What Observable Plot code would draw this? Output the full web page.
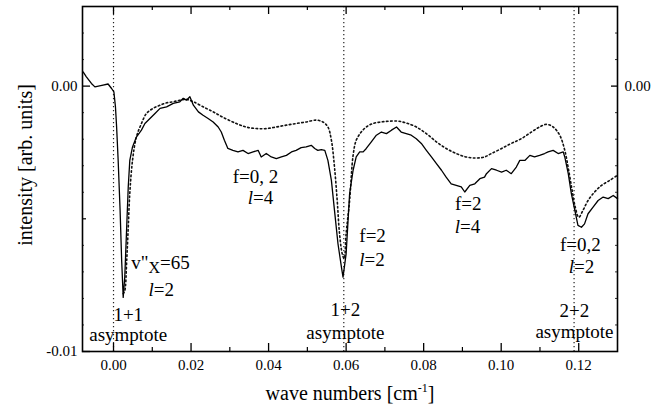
<!DOCTYPE html>
<html><head><meta charset="utf-8">
<script src="https://cdn.jsdelivr.net/npm/d3@7"></script>
<script src="https://cdn.jsdelivr.net/npm/@observablehq/plot@0.6"></script>
<style>
body{margin:0;background:#fff}
</style>
</head><body><div id="chart"></div><script>
// measured spectrum [wave number, intensity]
const measured = [[-0.0078,0.00053],[-0.0070,0.00035],[-0.0057,0.00010],[-0.0048,-0.00003],[-0.0039,0.00000],[-0.0027,0.00004],[-0.0014,0.00008],[-0.0005,-0.00009],[0.0001,-0.00022],[0.0005,-0.00078],[0.0008,-0.00154],[0.0012,-0.00280],[0.0017,-0.00469],[0.0021,-0.00657],[0.0025,-0.00796],[0.0029,-0.00720],[0.0034,-0.00532],[0.0038,-0.00380],[0.0042,-0.00280],[0.0049,-0.00229],[0.0059,-0.00192],[0.0072,-0.00166],[0.0081,-0.00141],[0.0094,-0.00122],[0.0107,-0.00103],[0.0120,-0.00084],[0.0137,-0.00078],[0.0154,-0.00065],[0.0171,-0.00059],[0.0180,-0.00046],[0.0188,-0.00053],[0.0197,-0.00040],[0.0206,-0.00072],[0.0219,-0.00097],[0.0231,-0.00110],[0.0244,-0.00122],[0.0257,-0.00135],[0.0270,-0.00154],[0.0278,-0.00173],[0.0286,-0.00204],[0.0295,-0.00235],[0.0308,-0.00242],[0.0321,-0.00248],[0.0334,-0.00242],[0.0347,-0.00254],[0.0360,-0.00248],[0.0373,-0.00242],[0.0381,-0.00267],[0.0394,-0.00254],[0.0407,-0.00267],[0.0420,-0.00273],[0.0433,-0.00267],[0.0446,-0.00261],[0.0459,-0.00248],[0.0471,-0.00242],[0.0484,-0.00232],[0.0497,-0.00229],[0.0510,-0.00223],[0.0519,-0.00235],[0.0527,-0.00242],[0.0536,-0.00239],[0.0545,-0.00242],[0.0553,-0.00280],[0.0562,-0.00355],[0.0570,-0.00468],[0.0579,-0.00594],[0.0588,-0.00683],[0.0592,-0.00720],[0.0600,-0.00632],[0.0609,-0.00405],[0.0618,-0.00317],[0.0626,-0.00267],[0.0635,-0.00248],[0.0644,-0.00248],[0.0652,-0.00235],[0.0665,-0.00210],[0.0678,-0.00185],[0.0691,-0.00173],[0.0704,-0.00179],[0.0717,-0.00166],[0.0730,-0.00154],[0.0742,-0.00173],[0.0755,-0.00179],[0.0768,-0.00185],[0.0781,-0.00198],[0.0794,-0.00216],[0.0807,-0.00242],[0.0820,-0.00267],[0.0833,-0.00292],[0.0846,-0.00317],[0.0858,-0.00343],[0.0871,-0.00368],[0.0884,-0.00374],[0.0897,-0.00380],[0.0906,-0.00399],[0.0919,-0.00374],[0.0932,-0.00368],[0.0945,-0.00349],[0.0957,-0.00343],[0.0962,-0.00330],[0.0975,-0.00311],[0.0988,-0.00317],[0.1001,-0.00324],[0.1013,-0.00317],[0.1026,-0.00330],[0.1039,-0.00305],[0.1048,-0.00280],[0.1061,-0.00280],[0.1074,-0.00261],[0.1086,-0.00267],[0.1099,-0.00261],[0.1112,-0.00254],[0.1121,-0.00248],[0.1134,-0.00242],[0.1147,-0.00254],[0.1160,-0.00248],[0.1164,-0.00267],[0.1173,-0.00330],[0.1181,-0.00405],[0.1190,-0.00468],[0.1198,-0.00525],[0.1207,-0.00532],[0.1215,-0.00519],[0.1224,-0.00481],[0.1237,-0.00456],[0.1250,-0.00431],[0.1263,-0.00418],[0.1276,-0.00424],[0.1289,-0.00412],[0.1300,-0.00424]];

// simulated spectrum [wave number, intensity]
const simulated = [[0.0025,-0.00782],[0.0029,-0.00771],[0.0034,-0.00657],[0.0038,-0.00532],[0.0042,-0.00404],[0.0049,-0.00280],[0.0059,-0.00192],[0.0072,-0.00141],[0.0085,-0.00103],[0.0102,-0.00084],[0.0120,-0.00072],[0.0137,-0.00063],[0.0154,-0.00059],[0.0171,-0.00053],[0.0188,-0.00050],[0.0206,-0.00059],[0.0231,-0.00078],[0.0257,-0.00097],[0.0283,-0.00118],[0.0317,-0.00141],[0.0342,-0.00154],[0.0368,-0.00160],[0.0394,-0.00160],[0.0420,-0.00154],[0.0446,-0.00147],[0.0471,-0.00141],[0.0497,-0.00135],[0.0523,-0.00128],[0.0540,-0.00135],[0.0553,-0.00154],[0.0562,-0.00204],[0.0570,-0.00305],[0.0577,-0.00431],[0.0583,-0.00556],[0.0590,-0.00632],[0.0595,-0.00650],[0.0600,-0.00556],[0.0609,-0.00431],[0.0618,-0.00261],[0.0626,-0.00204],[0.0639,-0.00173],[0.0652,-0.00154],[0.0669,-0.00141],[0.0691,-0.00135],[0.0712,-0.00132],[0.0734,-0.00132],[0.0755,-0.00139],[0.0781,-0.00154],[0.0807,-0.00179],[0.0833,-0.00210],[0.0858,-0.00235],[0.0884,-0.00254],[0.0910,-0.00267],[0.0936,-0.00271],[0.0957,-0.00267],[0.0975,-0.00254],[0.1001,-0.00235],[0.1026,-0.00216],[0.1052,-0.00198],[0.1078,-0.00173],[0.1099,-0.00154],[0.1117,-0.00144],[0.1134,-0.00154],[0.1151,-0.00185],[0.1164,-0.00242],[0.1174,-0.00317],[0.1183,-0.00393],[0.1191,-0.00456],[0.1200,-0.00494],[0.1211,-0.00468],[0.1224,-0.00431],[0.1241,-0.00399],[0.1259,-0.00374],[0.1280,-0.00355],[0.1300,-0.00336]];

const asymptotes = [0, 0.0594, 0.1188];
const xMajorTicks = [0, 0.02, 0.04, 0.06, 0.08, 0.10, 0.12];
const xMinorTicks = [0.01, 0.03, 0.05, 0.07, 0.09, 0.11];
const yLeftLabels = [0, -0.01];
const yRightLabels = [0];
const yMidTicks = [-0.005];
const yFineTicks = [-0.009,-0.008,-0.007,-0.006,-0.004,-0.003,-0.002,-0.001,0.001,0.002];

const midText = ["l=2","1+1","asymptote","f=0, 2","l=4","1+2","asymptote","f=2","l=4","f=0,2","l=2","2+2","asymptote"];
const midX    = [0.0123,0.0038,0.0038,0.0366,0.0379,0.0598,0.0598,0.0915,0.0913,0.1204,0.1207,0.1189,0.1189];
const midY    = [-0.00790,-0.00884,-0.00960,-0.00366,-0.00446,-0.00865,-0.00952,-0.00468,-0.00555,-0.00620,-0.00703,-0.00869,-0.00948];
const startText = ['v"X=65',"f=2","l=2"];
const startX    = [0.00457,0.0634,0.0634];
const startY    = [-0.00691,-0.00589,-0.00676];

const FONT = '"Liberation Serif", "Times New Roman", serif';
const fmt = d => d.toFixed(2);
const W = 670, H = 409, mL = 82, mR = 53, mT = 6, mB = 58;
const fw = W - mL - mR, fh = H - mT - mB;

const plot = Plot.plot({
  width: W, height: H,
  marginLeft: mL, marginRight: mR, marginTop: mT, marginBottom: mB,
  x: {domain: [-0.008, 0.13]},
  y: {domain: [-0.01, 0.003]},
  style: "font-family: 'Liberation Serif', 'Times New Roman', serif; font-size: 15px; background: white; color: black;",
  marks: [
    Plot.ruleX(asymptotes, {x: d => d, stroke: "#222", strokeWidth: 1.2, strokeDasharray: "1.2,2.8"}),
    Plot.line(simulated, {x: d => d[0], y: d => d[1], stroke: "#111", strokeWidth: 1.6, strokeDasharray: "1.6,2.6", curve: "catmull-rom"}),
    Plot.line(measured, {x: d => d[0], y: d => d[1], stroke: "#000", strokeWidth: 1.3}),
    // inward ticks
    Plot.tickX(xMajorTicks, {x: d => d, insetTop: fh - 8, strokeWidth: 1.3}),
    Plot.tickX(xMajorTicks, {x: d => d, insetBottom: fh - 8, strokeWidth: 1.3}),
    Plot.tickX(xMinorTicks, {x: d => d, insetTop: fh - 4, strokeWidth: 1.2}),
    Plot.tickX(xMinorTicks, {x: d => d, insetBottom: fh - 4, strokeWidth: 1.2}),
    Plot.tickY(yLeftLabels, {y: d => d, insetRight: fw - 8, strokeWidth: 1.3}),
    Plot.tickY(yRightLabels, {y: d => d, insetLeft: fw - 6, strokeWidth: 1.3}),
    Plot.tickY(yMidTicks, {y: d => d, insetRight: fw - 4, strokeWidth: 1.2}),
    Plot.tickY(yMidTicks, {y: d => d, insetLeft: fw - 4, strokeWidth: 1.2}),
    Plot.tickY(yFineTicks, {y: d => d, insetRight: fw - 2, strokeWidth: 0.8}),
    Plot.tickY(yFineTicks, {y: d => d, insetLeft: fw - 2, strokeWidth: 0.8}),
    Plot.axisX({ticks: xMajorTicks, tickSize: 0, tickPadding: 8, tickFormat: fmt, label: null, fontSize: 15, fontFamily: FONT}),
    Plot.axisY({ticks: yLeftLabels, tickSize: 0, tickPadding: 5, tickFormat: fmt, label: null, fontSize: 15, fontFamily: FONT}),
    Plot.axisY({anchor: "right", ticks: yRightLabels, tickSize: 0, tickPadding: 7, tickFormat: fmt, label: null, fontSize: 15, fontFamily: FONT}),
    Plot.frame({stroke: "#000", strokeWidth: 1.6}),
    Plot.text(["intensity [arb. units]"], {frameAnchor: "left", textAnchor: "middle", rotate: -90, dx: -57, dy: -14, fontSize: 20, fontFamily: FONT}),
    Plot.text(["wave numbers [cm-1]"], {frameAnchor: "bottom", dy: 48, lineAnchor: "bottom", fontSize: 20, fontFamily: FONT}),
    Plot.text(midText, {x: (d, i) => midX[i], y: (d, i) => midY[i], text: d => d, textAnchor: "middle", lineAnchor: "bottom", fontSize: 19, fontFamily: FONT}),
    Plot.text(startText, {x: (d, i) => startX[i], y: (d, i) => startY[i], text: d => d, textAnchor: "start", lineAnchor: "bottom", fontSize: 19, fontFamily: FONT})
  ]
});

// rich text: italic l, subscript X, superscript -1
d3.select(plot).selectAll("text").each(function() {
  const el = d3.select(this);
  const t = this.textContent;
  if (this.querySelector("tspan")) return;
  if (/^l=/.test(t)) {
    el.text(null);
    el.append("tspan").attr("font-style", "italic").text("l");
    el.append("tspan").text(t.slice(1));
  } else if (t === 'v"X=65') {
    el.text(null);
    el.append("tspan").text('v"');
    el.append("tspan").attr("dy", 4).attr("font-size", 16).text("X");
    el.append("tspan").attr("dy", -4).text("=65");
  } else if (t === "wave numbers [cm-1]") {
    el.text(null);
    el.append("tspan").text("wave numbers [cm");
    el.append("tspan").attr("dy", -8).attr("font-size", 12).text("-1");
    el.append("tspan").attr("dy", 8).text("]");
  }
});
document.getElementById("chart").appendChild(plot);
</script></body></html>
